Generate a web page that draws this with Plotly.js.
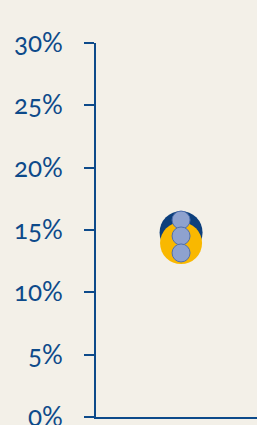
<!DOCTYPE html>
<html><head><meta charset="utf-8">
<script src="https://cdn.plot.ly/plotly-3.0.1.min.js"></script>
<style>html,body{margin:0;padding:0;background:#f3f0e8;}#chart{width:257px;height:425px;}
#chart .ytick text{font-variant-numeric: oldstyle-nums; font-feature-settings: "onum" 1;}</style>
</head><body><div id="chart"></div>
<script>
const category = ["A"];
const navyValue = [0.148];
const yellowValue = [0.1395];
const dotValues = [0.158, 0.1452, 0.1316];
const yTicks = [0, 0.05, 0.10, 0.15, 0.20, 0.25, 0.30];
const yTickLabels = ["0%", "5%", "10%", "15%", "20%", "25%", "30%"];

const xPos = 0;
const traces = [
  {x: category.map(()=>xPos), y: navyValue, type: "scatter", mode: "markers",
   marker: {size: 43, color: "#0c3f7c", line: {width: 0}}, hoverinfo: "skip"},
  {x: category.map(()=>xPos), y: yellowValue, type: "scatter", mode: "markers",
   marker: {size: 42, color: "#f9b800", line: {width: 0}}, hoverinfo: "skip"},
  {x: dotValues.map(()=>xPos), y: dotValues, type: "scatter", mode: "markers",
   marker: {size: 18, color: "#8ea2cf", line: {width: 1, color: "#4f6fae"}}, hoverinfo: "skip"}
];
const layout = {
  width: 257, height: 425,
  margin: {l: 96, r: 0, t: 43, b: 8},
  paper_bgcolor: "#f3f0e8", plot_bgcolor: "#f3f0e8",
  showlegend: false,
  font: {family: "Lato, sans-serif", color: "#0d4a8a"},
  xaxis: {range: [-1.12, 1], showgrid: false, zeroline: false, showticklabels: false,
          ticks: "", showline: true, linecolor: "#0d4a8a", linewidth: 2, fixedrange: true},
  yaxis: {range: [0, 0.30], tickvals: yTicks, ticktext: yTickLabels, showgrid: false,
          zeroline: false, showline: true, linecolor: "#0d4a8a", linewidth: 2,
          ticks: "outside", ticklen: 10, tickwidth: 2, tickcolor: "#0d4a8a",
          ticklabeloverflow: "allow",
          ticklabelstandoff: 16, tickfont: {size: 26, color: "#0d4a8a", family: "Lato, sans-serif"}}
};
Plotly.newPlot("chart", traces, layout, {displayModeBar: false, staticPlot: true});
</script></body></html>
